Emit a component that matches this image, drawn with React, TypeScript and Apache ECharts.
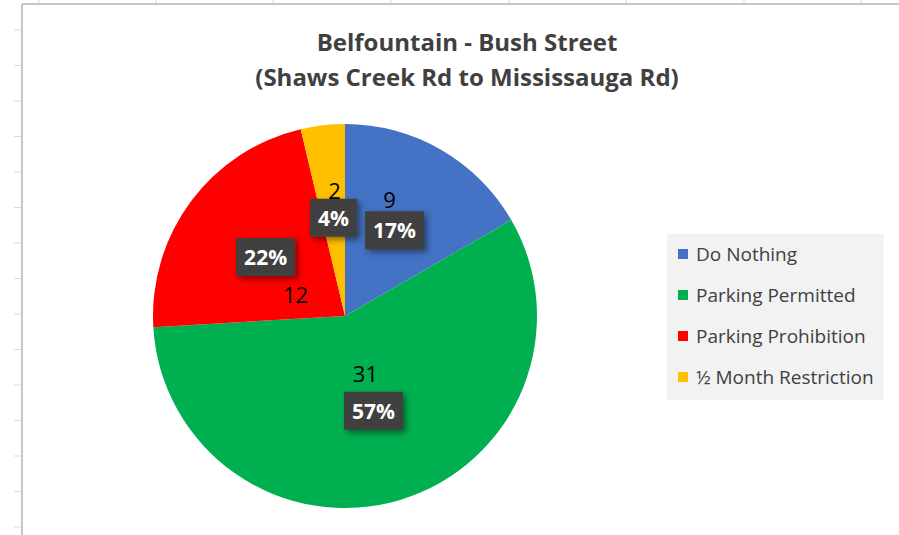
import React, { useEffect, useRef } from "react";
import * as echarts from "echarts";

const categories = ["Do Nothing", "Parking Permitted", "Parking Prohibition", "½ Month Restriction"];
const values = [9, 31, 12, 2];
const colors = ["#4472c4", "#00b050", "#ff0000", "#ffc000"];
const titleLines = ["Belfountain - Bush Street", "(Shaws Creek Rd to Mississauga Rd)"];
// label offsets for value labels (layout, relative to the slice's inside anchor)
const valueLabelOffsets = [[-5, -31], [-8, -38], [30, 37], [1, -28]];

const FONT = "'Open Sans', Lato, sans-serif";

export default function App() {
  const ref = useRef<HTMLDivElement>(null);
  useEffect(() => {
    if (!ref.current) return;
    const chart = echarts.init(ref.current, undefined, { renderer: "svg" });
    const total = values.reduce((a, b) => a + b, 0);

    const rowYs: number[] = [];
    for (let y = 30; y < 535; y += 35.5) rowYs.push(y);
    const colXs = [39, 156, 273, 391, 509, 626, 744, 861];
    const deco: any[] = [];
    rowYs.forEach((y) =>
      deco.push({ type: "line", shape: { x1: 14, y1: y, x2: 22, y2: y }, style: { stroke: "#d9d9d9", lineWidth: 1 }, silent: true })
    );
    colXs.forEach((x) =>
      deco.push({ type: "line", shape: { x1: x, y1: 0, x2: x, y2: 4 }, style: { stroke: "#d9d9d9", lineWidth: 1 }, silent: true })
    );
    deco.push({ type: "line", shape: { x1: 22, y1: 4, x2: 899, y2: 4 }, style: { stroke: "#c6c6c6", lineWidth: 2 }, silent: true });
    deco.push({ type: "line", shape: { x1: 22, y1: 4, x2: 22, y2: 535 }, style: { stroke: "#c6c6c6", lineWidth: 2 }, silent: true });

    chart.setOption({
      animation: false,
      backgroundColor: "#ffffff",
      color: colors,
      title: {
        text: titleLines.join("\n"),
        left: 462,
        textAlign: "center",
        top: 19,
        textStyle: { fontFamily: FONT, fontSize: 24, fontWeight: "bold", color: "#404040", lineHeight: 35 },
      },
      legend: {
        orient: "vertical",
        left: 667,
        top: 234,
        data: categories,
        backgroundColor: "#f2f2f2",
        padding: [9, 10, 12, 11],
        icon: "rect",
        itemWidth: 10,
        itemHeight: 10,
        itemGap: 19,
        textStyle: { fontFamily: FONT, fontSize: 19, color: "#404040", lineHeight: 22, padding: [0, 0, 0, 3] },
      },
      graphic: deco,
      series: [
        {
          type: "pie",
          center: [345, 316],
          radius: [0, 192],
          startAngle: 90,
          clockwise: true,
          labelLayout: { hideOverlap: false },
          data: categories.map((name, i) => ({ name, value: values[i] })),
          itemStyle: { borderWidth: 0 },
          label: {
            show: true,
            position: "inside",
            formatter: (p: any) => Math.round((p.value / total) * 100) + "%",
            fontFamily: FONT,
            fontSize: 21,
            fontWeight: "bold",
            color: "#ffffff",
            backgroundColor: "#404040",
            padding: [9, 8, 8, 8],
            shadowColor: "rgba(0,0,0,0.45)",
            shadowBlur: 6,
            shadowOffsetX: 3,
            shadowOffsetY: 3,
          },
          labelLine: { show: false },
        },
        {
          type: "pie",
          center: [345, 316],
          radius: [0, 192],
          startAngle: 90,
          clockwise: true,
          silent: true,
          labelLayout: { hideOverlap: false },
          data: categories.map((name, i) => ({
            name,
            value: values[i],
            label: { offset: valueLabelOffsets[i] },
          })),
          itemStyle: { color: "transparent", borderWidth: 0 },
          label: {
            show: true,
            position: "inside",
            formatter: "{c}",
            fontFamily: FONT,
            fontSize: 22,
            color: "#000000",
          },
          labelLine: { show: false },
        },
      ],
    });
    return () => chart.dispose();
  }, []);
  return <div ref={ref} style={{ position: "fixed", left: 0, top: 0, width: 899, height: 535 }} />;
}
